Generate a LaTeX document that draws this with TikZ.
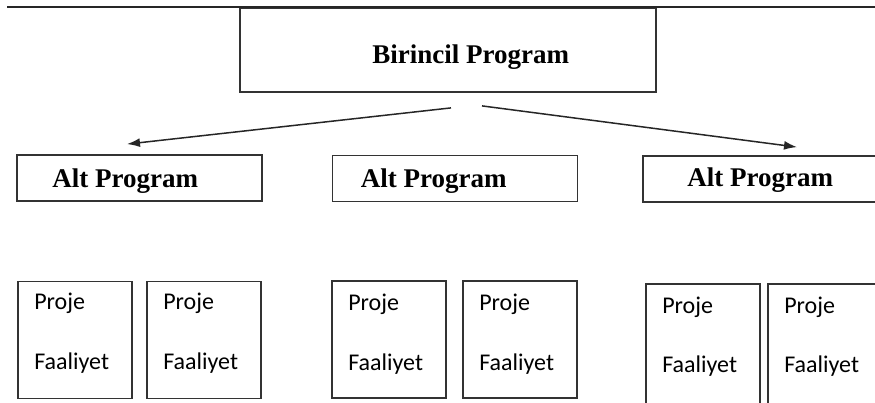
\documentclass[tikz,border=0pt]{standalone}
\usepackage{fontspec}
\setmainfont{Liberation Serif}
\newfontfamily\carlito{Carlito}
\usepackage{tikz}
\usetikzlibrary{arrows.meta,positioning,calc}
\tikzstyle{mainbox} = [draw=black!80,line width=1.8pt,minimum width=416pt,minimum height=84pt,inner sep=0pt]
\tikzstyle{altbox} = [draw=black!80,line width=1.8pt,minimum width=245pt,minimum height=46pt,inner sep=0pt]
\tikzstyle{taskbox} = [draw=black!80,line width=1.8pt,minimum width=114pt,minimum height=117pt,inner sep=0pt]
\tikzstyle{bigtext} = [font=\bfseries\fontsize{27}{30}\selectfont,inner sep=0pt,anchor=base west]
\tikzstyle{smalltext} = [font=\carlito\fontsize{24}{28}\selectfont,inner sep=0pt,anchor=base west]
\tikzstyle{link} = [-{Latex[length=13pt,width=9pt]},line width=1.5pt,color=black!85]
\begin{document}
\begin{tikzpicture}[x=1pt,y=-1pt]
    \useasboundingbox (0,0) rectangle (875,403);
    \clip (0,0) rectangle (875,403);

    % main program
    \node[mainbox] (prim) at (448,50) {};
    \node[bigtext,xshift=133pt,yshift=29.3pt] (primt) at (prim.south west) {Birincil Program};
    \draw[line width=1.8pt,black!85] ([xshift=-232pt]prim.north west) -- ([xshift=225pt]prim.north east);

    % sub programs
    \node[altbox] (alt1) at (139.5,178) {};
    \node[bigtext,xshift=36pt,yshift=14pt] (alt1t) at (alt1.south west) {Alt Program};
    \node[altbox] (alt2) at (455,178.5) {};
    \node[bigtext,xshift=29pt,yshift=15pt] (alt2t) at (alt2.south west) {Alt Program};
    \node[altbox] (alt3) at (765.5,179) {};
    \node[bigtext,xshift=45pt,yshift=16pt] (alt3t) at (alt3.south west) {Alt Program};

    % projects
    \node[taskbox] (t1) at (75,340) {};
      \node[smalltext,xshift=17pt,yshift=-29pt] (p1) at (t1.north west) {Proje};
      \node[smalltext,xshift=17pt,yshift=-89pt] (f1) at (t1.north west) {Faaliyet};
    \node[taskbox] (t2) at (204,340) {};
      \node[smalltext,xshift=17pt,yshift=-29pt] (p2) at (t2.north west) {Proje};
      \node[smalltext,xshift=17pt,yshift=-89pt] (f2) at (t2.north west) {Faaliyet};
    \node[taskbox] (t3) at (389,339.5) {};
      \node[smalltext,xshift=17pt,yshift=-30pt] (p3) at (t3.north west) {Proje};
      \node[smalltext,xshift=17pt,yshift=-90pt] (f3) at (t3.north west) {Faaliyet};
    \node[taskbox] (t4) at (520,339.5) {};
      \node[smalltext,xshift=17pt,yshift=-30pt] (p4) at (t4.north west) {Proje};
      \node[smalltext,xshift=17pt,yshift=-90pt] (f4) at (t4.north west) {Faaliyet};
    \node[taskbox,minimum height=122pt] (t5) at (703,345) {};
      \node[smalltext,xshift=17pt,yshift=-30pt] (p5) at (t5.north west) {Proje};
      \node[smalltext,xshift=17pt,yshift=-89pt] (f5) at (t5.north west) {Faaliyet};
    \node[taskbox,minimum height=122pt] (t6) at (825,345) {};
      \node[smalltext,xshift=17pt,yshift=-30pt] (p6) at (t6.north west) {Proje};
      \node[smalltext,xshift=17pt,yshift=-89pt] (f6) at (t6.north west) {Faaliyet};

    % arrows
    \coordinate (l0) at ([xshift=3pt,yshift=-15pt]prim.south);
    \coordinate (r0) at ([xshift=34pt,yshift=-13pt]prim.south);
    \coordinate (l1) at ([xshift=-12.5pt,yshift=10pt]alt1.north);
    \coordinate (r1) at ([xshift=31.5pt,yshift=8pt]alt3.north);
    \draw[link] (l0) -- (l1);
    \draw[link] (r0) -- (r1);
\end{tikzpicture}
\end{document}
